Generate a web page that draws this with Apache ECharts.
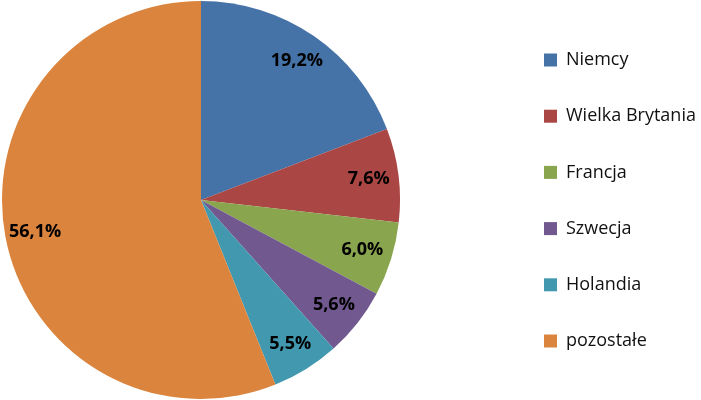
<!DOCTYPE html>
<html>
<head>
<meta charset="utf-8">
<script src="https://cdn.jsdelivr.net/npm/echarts@6/dist/echarts.min.js"></script>
<style>
html,body{margin:0;padding:0;background:#fff;}
#c{width:701px;height:400px;}
</style>
</head>
<body>
<div id="c"></div>
<script>
const categories = ['Niemcy', 'Wielka Brytania', 'Francja', 'Szwecja', 'Holandia', 'pozostałe'];
const values = [19.2, 7.6, 6.0, 5.6, 5.5, 56.1];
const colors = ['#4572A7', '#AA4643', '#89A54E', '#71588F', '#4198AF', '#DB843D'];

const pieData = categories.map((n, i) => ({ name: n, value: values[i], itemStyle: { color: colors[i] } }));
const labelData = categories.map((n, i) => ({ name: n, value: values[i] }));

const chart = echarts.init(document.getElementById('c'), null, { renderer: 'canvas' });
chart.setOption({
  animation: false,
  backgroundColor: '#fff',
  legend: {
    orient: 'vertical',
    left: 539,
    top: 46,
    icon: 'rect',
    itemWidth: 13,
    itemHeight: 13,
    itemGap: 38.2,
    data: categories,
    textStyle: { fontFamily: 'Open Sans', fontSize: 18, lineHeight: 18, color: '#111', padding: [0, 0, 0, 4] }
  },
  series: [
    {
      type: 'pie',
      center: [201, 200],
      radius: [0, 199],
      startAngle: 90,
      clockwise: true,
      label: { show: false },
      labelLine: { show: false },
      emphasis: { disabled: true },
      data: pieData
    },
    {
      type: 'pie',
      center: [201, 200],
      radius: [133, 199],
      startAngle: 90,
      clockwise: true,
      silent: true,
      legendHoverLink: false,
      itemStyle: { color: 'rgba(0,0,0,0)', borderWidth: 0 },
      label: {
        show: true,
        position: 'inside',
        fontFamily: 'Open Sans',
        fontWeight: 'bold',
        fontSize: 18,
        color: '#000',
        padding: [4, 0, 0, 0],
        formatter: p => p.value.toFixed(1).replace('.', ',') + '%'
      },
      labelLine: { show: false },
      emphasis: { disabled: true },
      data: labelData
    }
  ]
});
</script>
</body>
</html>
